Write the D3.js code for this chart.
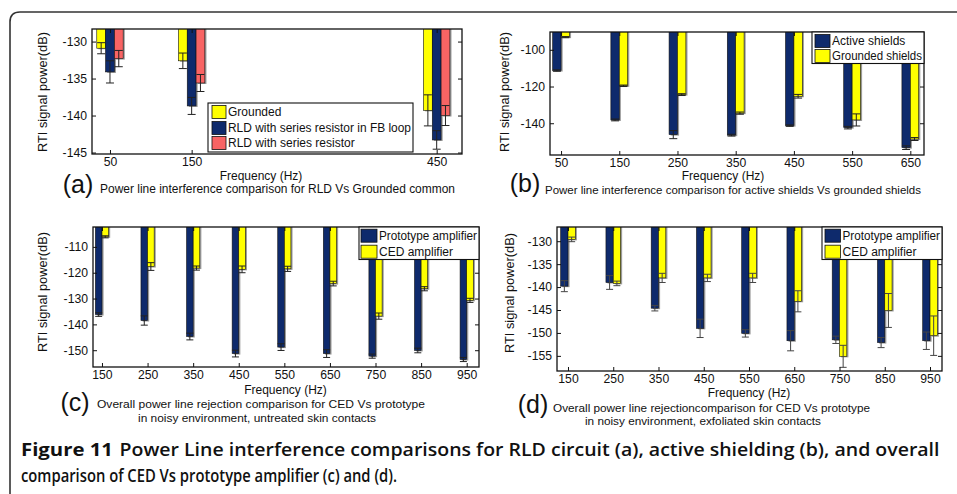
<!DOCTYPE html>
<html>
<head>
<meta charset="utf-8">
<script src="https://cdn.jsdelivr.net/npm/d3@7"></script>
<style>
  body { margin: 0; background: #fff; }
  svg { display: block; }
  text { fill: #111; }
</style>
</head>
<body>
<svg id="fig" width="957" height="494"></svg>
<script>
// ---- panel (a): RLD vs grounded common
var freqA = [50, 150, 450];
var groundedA = [-130.9, -132.6, -139.3];
var groundedErrA = [0.75, 1.05, 2.1];
var rldLoopA = [-134.1, -138.7, -143.3];
var rldLoopErrA = [1.5, 1.15, 1.25];
var rldSeriesA = [-132.3, -135.6, -140.0];
var rldSeriesErrA = [1.1, 1.15, 1.35];
var yTicksA = [-130, -135, -140, -145];

// ---- panel (b): active vs grounded shields
var freqB = [50, 150, 250, 350, 450, 550, 650];
var activeB = [-111.3, -138.2, -146.2, -146.5, -141.3, -142.4, -153.3];
var activeErrB = [0.4, 0.5, 2.2, 0.5, 0.4, 0.7, 1.0];
var groundedB = [-93.1, -119.6, -124.4, -134.5, -125.3, -138.2, -148.6];
var groundedErrB = [0.3, 0.4, 0.5, 0.6, 1.0, 3.3, 0.8];
var yTicksB = [-100, -120, -140];

// ---- panels (c) and (d): prototype vs CED amplifier
var freqCD = [150, 250, 350, 450, 550, 650, 750, 850, 950];
var protoC = [-136.2, -138.5, -144.7, -151.3, -148.8, -151.3, -152.3, -150.1, -153.6];
var protoErrC = [0.7, 1.8, 1.3, 1.3, 1.3, 1.5, 0.8, 0.9, 0.8];
var cedC = [-106.1, -117.6, -118.2, -118.7, -118.5, -124.2, -136.8, -126.2, -130.7];
var cedErrC = [0.4, 1.5, 0.8, 1.3, 1.0, 0.9, 1.2, 0.8, 0.8];
var yTicksC = [-110, -120, -130, -140, -150];
var protoD = [-139.8, -139.0, -144.6, -149.0, -150.1, -151.7, -151.5, -152.1, -151.7];
var protoErrD = [1.2, 1.5, 0.6, 2.0, 0.8, 2.2, 0.8, 1.1, 1.9];
var cedD = [-129.6, -139.2, -138.0, -138.0, -138.0, -143.1, -155.1, -145.1, -150.6];
var cedErrD = [0.5, 0.5, 1.0, 0.8, 1.0, 2.3, 2.4, 3.7, 4.3];
var yTicksD = [-130, -135, -140, -145, -150, -155];

var navy = '#0e2a6c', yellow = '#ffff00', salmon = '#f86464';
var chartFont = '"Liberation Sans", Arial, sans-serif';

var svg = d3.select('#fig');

// outer frame with rounded corner
svg.append('path')
  .attr('d', 'M10,494 V22 Q10,12 20,12 H957')
  .attr('fill', 'none').attr('stroke', '#333').attr('stroke-width', 1.6);

function drawPanel(p, idx) {
  var g = svg.append('g').style('font-family', chartFont);
  var x = d3.scaleLinear().domain(p.xDomain).range([p.left, p.left + p.width]);
  var y = d3.scaleLinear().domain(p.yDomain).range([p.top + p.height, p.top]);

  g.append('clipPath').attr('id', 'clip' + idx)
    .append('rect').attr('x', p.left).attr('y', p.top).attr('width', p.width).attr('height', p.height);
  var plot = g.append('g').attr('clip-path', 'url(#clip' + idx + ')');

  var n = p.series.length;
  p.series.forEach(function (s, i) {
    var off = (i - (n - 1) / 2) * p.barWidth;
    var rows = p.freq.map(function (f, j) { return { f: f, v: s.values[j], e: s.errors[j] }; });
    // shadow
    plot.selectAll(null).data(rows).enter().append('rect')
      .attr('x', function (d) { return x(d.f) + off - p.barWidth / 2 + 1.6; })
      .attr('y', p.top)
      .attr('width', p.barWidth)
      .attr('height', function (d) { return y(d.v) - p.top + 1; })
      .attr('fill', '#9a9a9a');
    plot.selectAll(null).data(rows).enter().append('rect')
      .attr('x', function (d) { return x(d.f) + off - p.barWidth / 2; })
      .attr('y', p.top - 2)
      .attr('width', p.barWidth)
      .attr('height', function (d) { return y(d.v) - p.top + 2; })
      .attr('fill', s.color).attr('stroke', '#111').attr('stroke-width', 0.6);
  });
  p.series.forEach(function (s, i) {
    var off = (i - (n - 1) / 2) * p.barWidth;
    var rows = p.freq.map(function (f, j) { return { f: f, v: s.values[j], e: s.errors[j] }; });
    var eb = plot.selectAll(null).data(rows).enter().append('g')
      .attr('stroke', p.errColor).attr('stroke-width', 1);
    eb.append('line')
      .attr('x1', function (d) { return x(d.f) + off; }).attr('x2', function (d) { return x(d.f) + off; })
      .attr('y1', function (d) { return y(d.v + d.e); }).attr('y2', function (d) { return y(d.v - d.e); });
    [1, -1].forEach(function (sg) {
      eb.append('line')
        .attr('x1', function (d) { return x(d.f) + off - p.capWidth / 2; })
        .attr('x2', function (d) { return x(d.f) + off + p.capWidth / 2; })
        .attr('y1', function (d) { return y(d.v + sg * d.e); })
        .attr('y2', function (d) { return y(d.v + sg * d.e); });
    });
  });

  var fmt = function (d) { return String(d); };
  var none = function () { return ''; };
  var axes = [
    [d3.axisLeft(y).tickValues(p.yTicks).tickFormat(fmt).tickPadding(5), 'translate(' + p.left + ',0)'],
    [d3.axisRight(y).tickValues(p.yTicks).tickFormat(none), 'translate(' + (p.left + p.width) + ',0)'],
    [d3.axisBottom(x).tickValues(p.freq).tickFormat(fmt).tickPadding(3), 'translate(0,' + (p.top + p.height) + ')'],
    [d3.axisTop(x).tickValues(p.freq).tickFormat(none), 'translate(0,' + p.top + ')']
  ];
  axes.forEach(function (a) {
    var ag = g.append('g').attr('transform', a[1])
      .call(a[0].tickSizeInner(-4).tickSizeOuter(0));
    ag.select('.domain').remove();
    ag.selectAll('line').attr('stroke', '#111');
    ag.selectAll('text').style('font-family', chartFont)
      .attr('font-size', 12.2).attr('fill', '#111');
  });
  g.append('rect').attr('x', p.left).attr('y', p.top).attr('width', p.width).attr('height', p.height)
    .attr('fill', 'none').attr('stroke', '#111').attr('stroke-width', 1.3);

  // legend
  var L = p.legend;
  g.append('rect').attr('x', L.x).attr('y', L.y).attr('width', L.w).attr('height', L.h)
    .attr('fill', '#fff').attr('stroke', '#111').attr('stroke-width', 1.1);
  L.order.forEach(function (si, k) {
    var s = p.series[si];
    var cy = L.rows[k];
    g.append('rect').attr('x', L.sx).attr('y', cy - 6.5).attr('width', L.sw).attr('height', 13)
      .attr('fill', s.color).attr('stroke', '#111').attr('stroke-width', 0.8);
    var t = g.append('text').attr('x', L.sx + L.sw + 2).attr('y', cy).attr('dy', '0.35em')
      .attr('font-size', 12).text(s.name);
    var room = L.x + L.w - (L.sx + L.sw + 2) - 2;
    if (t.node().getComputedTextLength() > room) {
      t.attr('textLength', room).attr('lengthAdjust', 'spacingAndGlyphs');
    }
  });

  // axis titles
  g.append('text').attr('transform', 'translate(' + p.yLab[0] + ',' + p.yLab[1] + ') rotate(-90)')
    .attr('text-anchor', 'middle').attr('dy', '0.35em').attr('font-size', 12.8)
    .text('RTI signal power(dB)');
  g.append('text').attr('x', p.xLab[0]).attr('y', p.xLab[1]).attr('dy', '0.35em')
    .attr('text-anchor', 'middle').attr('font-size', 12).text('Frequency (Hz)');

  // sub caption
  g.append('text').attr('x', p.tag[0]).attr('y', p.tag[1]).attr('dy', '0.35em')
    .attr('text-anchor', 'middle').attr('font-size', 25).text(p.tag[2]);
  p.caption.forEach(function (c) {
    g.append('text').attr('x', c.x).attr('y', c.y).attr('dy', '0.35em')
      .attr('font-size', c.size).attr('textLength', c.len).attr('lengthAdjust', 'spacingAndGlyphs')
      .text(c.t);
  });
}

drawPanel({
  left: 92, top: 29, width: 370, height: 125,
  xDomain: [28, 481], yDomain: [-145.2, -128.3],
  freq: freqA, yTicks: yTicksA, barWidth: 8.8, capWidth: 8, errColor: '#222',
  series: [
    { name: 'Grounded', values: groundedA, errors: groundedErrA, color: yellow },
    { name: 'RLD with series resistor in FB loop', values: rldLoopA, errors: rldLoopErrA, color: navy },
    { name: 'RLD with series resistor', values: rldSeriesA, errors: rldSeriesErrA, color: salmon }
  ],
  legend: { x: 208, y: 103, w: 205, h: 49, rows: [112, 128, 143], sx: 212, sw: 14, order: [0, 1, 2] },
  yLab: [43, 92], xLab: [261, 175.5], tag: [78, 184, '(a)'],
  caption: [{ x: 100, y: 189, t: 'Power line interference comparison for RLD Vs Grounded common', size: 12, len: 355 }]
}, 0);

drawPanel({
  left: 550, top: 32, width: 374, height: 123,
  xDomain: [31, 673.5], yDomain: [-157.3, -90.3],
  freq: freqB, yTicks: yTicksB, barWidth: 8.4, capWidth: 8, errColor: '#222',
  series: [
    { name: 'Active shields', values: activeB, errors: activeErrB, color: navy },
    { name: 'Grounded shields', values: groundedB, errors: groundedErrB, color: yellow }
  ],
  legend: { x: 812, y: 32, w: 112, h: 31.5, rows: [41, 56], sx: 815, sw: 15, order: [0, 1] },
  yLab: [505, 92], xLab: [723, 176], tag: [525, 183, '(b)'],
  caption: [{ x: 545, y: 189.5, t: 'Power line interference comparison for active shields Vs grounded shields', size: 11.5, len: 376 }]
}, 1);

drawPanel({
  left: 93, top: 227, width: 386, height: 140,
  xDomain: [130.3, 977], yDomain: [-156.5, -102.3],
  freq: freqCD, yTicks: yTicksC, barWidth: 6.6, capWidth: 7, errColor: '#222',
  series: [
    { name: 'Prototype amplifier', values: protoC, errors: protoErrC, color: navy },
    { name: 'CED amplifier', values: cedC, errors: cedErrC, color: yellow }
  ],
  legend: { x: 359, y: 227, w: 120, h: 32.5, rows: [235.7, 251.7], sx: 361, sw: 16, order: [0, 1] },
  yLab: [43, 292], xLab: [285.5, 390], tag: [75, 402, '(c)'],
  caption: [
    { x: 97, y: 404, t: 'Overall power line rejection comparison for CED Vs prototype', size: 11, len: 328 },
    { x: 138, y: 418, t: 'in noisy environment, untreated skin contacts', size: 11, len: 238 }
  ]
}, 2);

drawPanel({
  left: 557, top: 227, width: 385, height: 144,
  xDomain: [125.7, 976.5], yDomain: [-158.3, -126.9],
  freq: freqCD, yTicks: yTicksD, barWidth: 7.3, capWidth: 7, errColor: '#444',
  series: [
    { name: 'Prototype amplifier', values: protoD, errors: protoErrD, color: navy },
    { name: 'CED amplifier', values: cedD, errors: cedErrD, color: yellow }
  ],
  legend: { x: 822, y: 227, w: 120, h: 32.5, rows: [235.7, 251.7], sx: 825, sw: 15.5, order: [0, 1] },
  yLab: [510, 293], xLab: [749, 393], tag: [533, 404, '(d)'],
  caption: [
    { x: 553, y: 408, t: 'Overall power line rejectioncomparison for CED Vs prototype', size: 11, len: 317 },
    { x: 585, y: 421, t: 'in noisy environment, exfoliated skin contacts', size: 11, len: 236 }
  ]
}, 3);

// figure caption
var capFont = '"Open Sans", "Liberation Sans", sans-serif';
var cap = svg.append('g').style('font-family', capFont);
cap.append('text').attr('x', 21).attr('y', 456).attr('font-size', 18).attr('font-weight', 700)
  .style('font-family', capFont).attr('fill', '#1a1a1a')
  .attr('textLength', 92).attr('lengthAdjust', 'spacingAndGlyphs').text('Figure 11');
cap.append('text').attr('x', 119.5).attr('y', 456).attr('font-size', 18).attr('font-weight', 600)
  .style('font-family', capFont).attr('fill', '#1a1a1a')
  .attr('textLength', 820).attr('lengthAdjust', 'spacingAndGlyphs')
  .text('Power Line interference comparisons for RLD circuit (a), active shielding (b), and overall');
cap.append('text').attr('x', 21).attr('y', 482).attr('font-size', 18).attr('font-weight', 600)
  .style('font-family', capFont).attr('fill', '#1a1a1a')
  .attr('textLength', 376).attr('lengthAdjust', 'spacingAndGlyphs')
  .text('comparison of CED Vs prototype amplifier (c) and (d).');
</script>
</body>
</html>
